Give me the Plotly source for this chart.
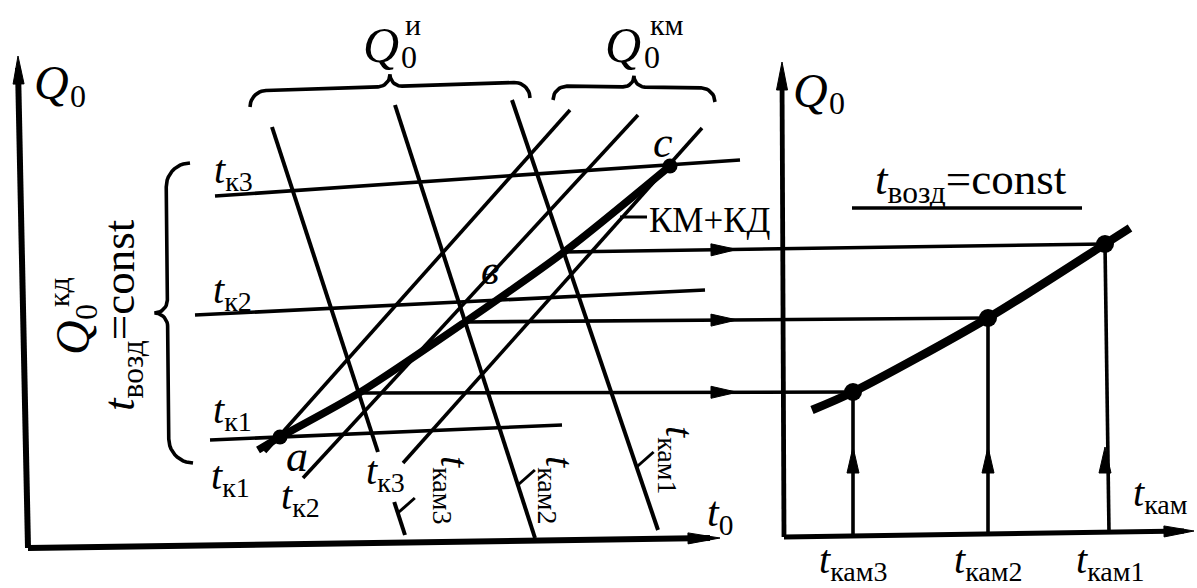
import numpy as np
import plotly.graph_objects as go

W, H = 1197, 588
FONT = "Liberation Serif, Times New Roman, Times, serif"

# ---------------- left diagram: Q0 versus t0 ----------------
# condenser characteristics Q0^кд at t_к1, t_к2, t_к3 (nearly horizontal)
kd_names = ["к1", "к2", "к3"]
kd_x = [[210, 562], [195, 705], [215, 740]]
kd_y = [[440, 425], [315, 290], [196, 160]]

# evaporator characteristics Q0^и at t_кам1, t_кам2, t_кам3 (falling)
isp_names = ["кам1", "кам2", "кам3"]
isp_x = [[512, 658], [395, 535], [272, 405]]
isp_y = [[100, 530], [105, 538], [127, 535]]

# compressor characteristics Q0^км at t_к1, t_к2, t_к3 (rising)
km_names = ["к1", "к2", "к3"]
km_x = [[265, 570], [303, 638], [403, 702]]
km_y = [[452, 110], [478, 115], [463, 128]]

# combined characteristic КМ+КД (a ... в ... c)
sys_x = [258, 280, 359, 465, 564, 670]
sys_y = [450, 437, 393, 322, 252, 166]

# ---------------- right diagram: Q0 versus t_кам ----------------
kam_names = ["кам3", "кам2", "кам1"]
kam_x = [853, 988, 1105]
kam_q = [392, 318, 244]
res_x = [812, 853, 988, 1105, 1130]
res_y = [410, 392, 318, 244, 228]

# axes (left and right diagrams)
left_origin = (28, 548)
left_top = (18, 56)
left_right = (720, 538)
right_origin = (784, 537)
right_top = (782, 62)
right_right = (1194, 531)

fig = go.Figure()


def seg(xs, ys, width=3.6, color="black"):
    fig.add_trace(go.Scatter(x=list(xs), y=list(ys), mode="lines",
                             line=dict(color=color, width=width, shape="linear"),
                             hoverinfo="skip", showlegend=False))


def smooth(xs, ys, width):
    fig.add_trace(go.Scatter(x=xs, y=ys, mode="lines",
                             line=dict(color="black", width=width, shape="spline", smoothing=0.8),
                             hoverinfo="skip", showlegend=False))


def head(tip, direction, length=22, half=5.5):
    d = np.array(direction, float)
    d /= np.linalg.norm(d)
    n = np.array([-d[1], d[0]])
    t = np.array(tip, float)
    b = t - d * length
    p1, p2 = b + n * half, b - n * half
    fig.add_trace(go.Scatter(x=[t[0], p1[0], p2[0], t[0]], y=[t[1], p1[1], p2[1], t[1]],
                             mode="lines", fill="toself", fillcolor="black",
                             line=dict(color="black", width=1),
                             hoverinfo="skip", showlegend=False))


def point_on(x0, y0, x1, y1, x=None, y=None):
    if x is not None:
        t = (x - x0) / (x1 - x0)
    else:
        t = (y - y0) / (y1 - y0)
    return x0 + t * (x1 - x0), y0 + t * (y1 - y0)


def brace(p0, p1, normal, curl=13, cusp=12):
    p0 = np.array(p0, float)
    p1 = np.array(p1, float)
    L = np.linalg.norm(p1 - p0)
    e = (p1 - p0) / L
    n = np.array(normal, float)
    n /= np.linalg.norm(n)
    th = np.linspace(0, np.pi / 2, 12)
    u, v = [], []
    # end curl
    u += list(curl - curl * np.cos(th)); v += list(curl * np.sin(th))
    # towards the cusp
    u += list(L / 2 - cusp + cusp * np.sin(th)); v += list(curl + cusp - cusp * np.cos(th))
    half_u = np.array(u); half_v = np.array(v)
    u_all = np.concatenate([half_u, (L - half_u)[::-1]])
    v_all = np.concatenate([half_v, half_v[::-1]])
    pts = p0[None, :] + u_all[:, None] * e[None, :] + v_all[:, None] * n[None, :]
    seg(pts[:, 0], pts[:, 1], width=3.6)


def text(x, y, s, size=38, angle=0, xanchor="center", yanchor="middle"):
    fig.add_annotation(x=x, y=y, text=s, showarrow=False, textangle=angle,
                       xanchor=xanchor, yanchor=yanchor,
                       font=dict(family=FONT, size=size, color="black"))


# ---- axes ----
seg([left_origin[0], left_top[0]], [left_origin[1], left_top[1] + 12], width=6)
head(left_top, (left_top[0] - left_origin[0], left_top[1] - left_origin[1]), length=28, half=5.5)
seg([left_origin[0], left_right[0] - 10], [left_origin[1], left_right[1]], width=6)
head(left_right, (1, -0.012), length=32, half=5.5)

seg([right_origin[0], right_top[0]], [right_origin[1], right_top[1] + 12], width=4.8)
head(right_top, (0, -1), length=28, half=5.5)
seg([right_origin[0], right_right[0] - 10], [right_origin[1], right_right[1]], width=4.8)
head(right_right, (1, -0.015), length=30, half=5.5)

# ---- condenser lines ----
for xs, ys in zip(kd_x, kd_y):
    seg(xs, ys)

# ---- evaporator lines (t_кам3 is broken around the t_к3 label) ----
for name, xs, ys in zip(isp_names, isp_x, isp_y):
    if name == "кам3":
        xa, ya = point_on(xs[0], ys[0], xs[1], ys[1], y=452)
        xb, yb = point_on(xs[0], ys[0], xs[1], ys[1], y=502)
        seg([xs[0], xa, None, xb, xs[1]], [ys[0], ya, None, yb, ys[1]], width=4)
    else:
        seg(xs, ys, width=4)

# leader ticks for the t_кам labels
tick_y = {"кам3": 513, "кам2": 485, "кам1": 467}
for name, xs, ys in zip(isp_names, isp_x, isp_y):
    tx, ty = point_on(xs[0], ys[0], xs[1], ys[1], y=tick_y[name])
    seg([tx, tx + 17], [ty, ty - 15], width=3)

# ---- compressor lines ----
for xs, ys in zip(km_x, km_y):
    seg(xs, ys)

# ---- combined characteristic ----
smooth(sys_x, sys_y, width=7.5)
fig.add_trace(go.Scatter(x=[sys_x[1], sys_x[-1]], y=[sys_y[1], sys_y[-1]], mode="markers",
                         marker=dict(color="black", size=15), hoverinfo="skip", showlegend=False))
seg([620, 647], [217, 217], width=3)

# ---- transfer lines to the right diagram ----
for i, (kx, kq) in enumerate(zip(kam_x, kam_q)):
    sx, sy = sys_x[2 + i], sys_y[2 + i]
    seg([sx, kx], [sy, kq])
    ax, ay = point_on(sx, sy, kx, kq, x=737)
    head((ax, ay), (kx - sx, kq - sy), length=26, half=6)

# ---- right diagram ----
for kx, kq in zip(kam_x, kam_q):
    base = right_origin[1] - (kx - right_origin[0]) * 0.015
    seg([kx + 4 if kx > 1000 else kx, kx], [base, kq])
    head((kx, 447), (0, -1), length=26, half=6)
smooth(res_x, res_y, width=8.5)
fig.add_trace(go.Scatter(x=kam_x, y=kam_q, mode="markers",
                         marker=dict(color="black", size=18), hoverinfo="skip", showlegend=False))
seg([852, 1082], [208, 208], width=3.6)

# ---- braces ----
brace((250, 107), (530, 98), (0, -1), curl=16, cusp=12)
brace((553, 100), (715, 102), (0, -1), curl=14, cusp=11)
brace((190, 163), (193, 463), (-1, 0), curl=24, cusp=13)

# ---- labels ----
text(51, 82, "<i>Q</i>", size=48)
text(78, 96, "0", size=32)
text(810, 90, "<i>Q</i>", size=48)
text(837, 103, "0", size=32)

text(381, 45, "<i>Q</i>", size=50)
text(409, 57, "0", size=32)
text(413, 24, "и", size=30)
text(623, 45, "<i>Q</i>", size=50)
text(652, 57, "0", size=32)
text(667, 24, "км", size=30)

text(72, 338, "<i>Q</i>", size=48, angle=-90)
text(86, 312, "0", size=32, angle=-90)
text(58, 292, "кд", size=30, angle=-90)
text(122, 315, "<i>t</i><sub>возд</sub>=const", size=45, angle=-90)

text(971, 182, "<i>t</i><sub>возд</sub>=const", size=45)

text(233, 172, "<i>t</i><sub>к3</sub>", size=40)
text(232, 292, "<i>t</i><sub>к2</sub>", size=40)
text(232, 412, "<i>t</i><sub>к1</sub>", size=40)
text(230, 478, "<i>t</i><sub>к1</sub>", size=40)
text(297, 456, "<i>a</i>", size=44)
text(300, 498, "<i>t</i><sub>к2</sub>", size=40)
text(385, 473, "<i>t</i><sub>к3</sub>", size=40)
text(490, 270, "<i>в</i>", size=42)
text(663, 142, "<i>c</i>", size=44)
text(710, 220, "КМ+КД", size=35)

text(452, 490, "<i>t</i><sub>кам3</sub>", size=40, angle=90)
text(557, 490, "<i>t</i><sub>кам2</sub>", size=40, angle=90)
text(677, 460, "<i>t</i><sub>кам1</sub>", size=40, angle=90)
text(720, 515, "<i>t</i><sub>0</sub>", size=42)

text(1160, 495, "<i>t</i><sub>кам</sub>", size=40)
for kx, name in zip(kam_x, kam_names):
    text(kx + (5 if kx > 1000 else 0), 562, f"<i>t</i><sub>{name}</sub>", size=40)

fig.update_layout(
    width=W, height=H,
    margin=dict(l=0, r=0, t=0, b=0),
    paper_bgcolor="white", plot_bgcolor="white",
    xaxis=dict(range=[0, W], visible=False, fixedrange=True),
    yaxis=dict(range=[H, 0], visible=False, fixedrange=True),
    showlegend=False,
)
fig.write_html("out.html")
